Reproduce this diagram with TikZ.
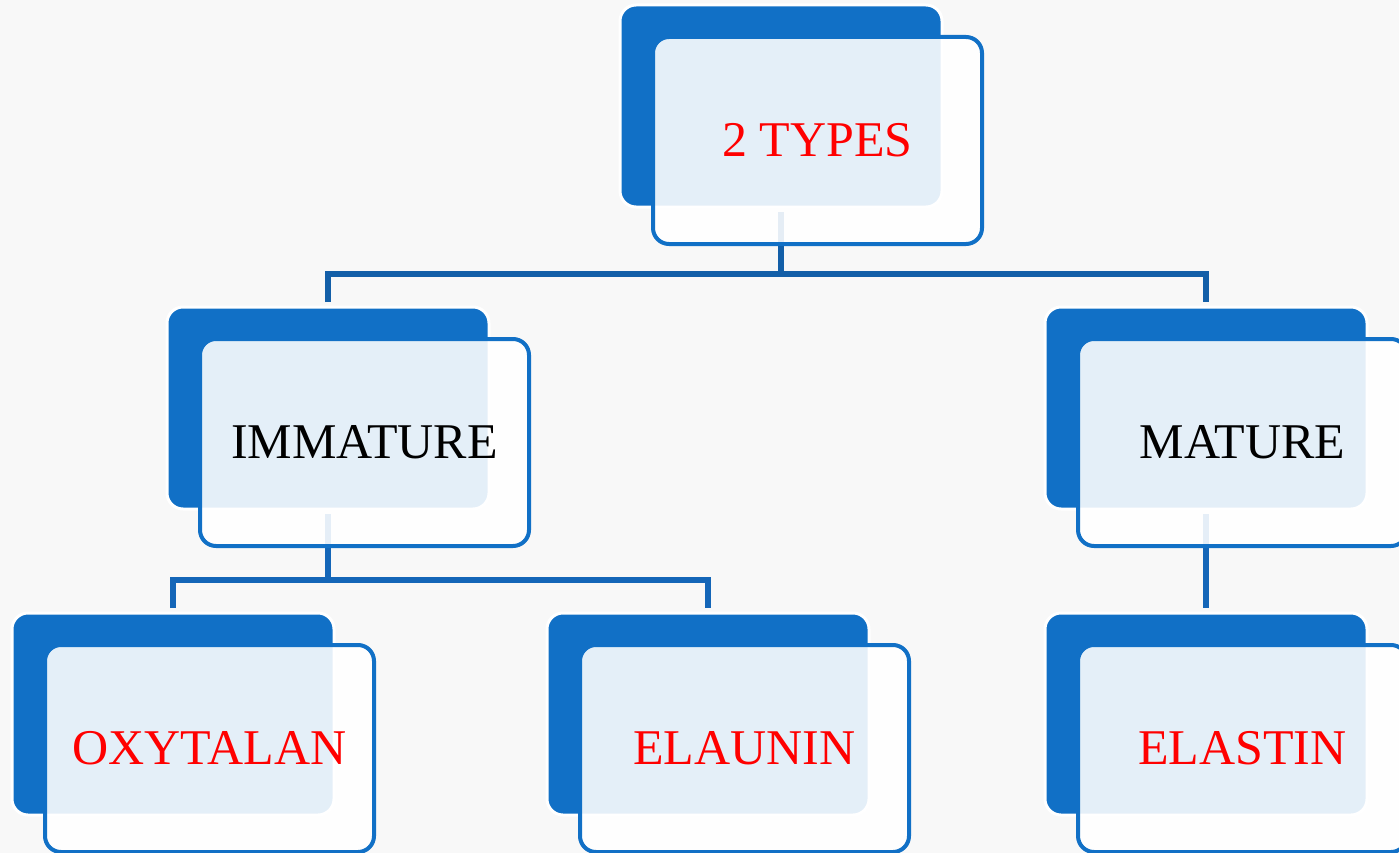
\documentclass[tikz,border=0pt]{standalone}
\usepackage{fontspec}
\setmainfont{Liberation Serif}
\definecolor{bblue}{HTML}{1170C6}
\definecolor{conA}{HTML}{135FA8}
\definecolor{conB}{HTML}{1466B8}
\definecolor{bg}{HTML}{F8F8F8}
\definecolor{txtred}{HTML}{FF0000}
\tikzset{
  backbox/.style={rectangle, rounded corners=16pt, fill=bblue, draw=white, line width=3pt,
    minimum width=322pt, minimum height=202pt, inner sep=0pt, outer sep=5pt},
  frontbox/.style={rectangle, rounded corners=16pt, fill=white, fill opacity=0.89, text opacity=1,
    draw=bblue, line width=4pt, minimum width=329pt, minimum height=207pt, inner sep=0pt,
    font=\fontsize{50}{58}\selectfont},
  conn1/.style={draw=conA, line width=5.5pt},
  conn2/.style={draw=conB, line width=5.5pt},
}
\begin{document}
\begin{tikzpicture}[x=1pt,y=-1pt]
\useasboundingbox (0,0) rectangle (1399,853);
\clip (0,0) rectangle (1399,853);
\fill[bg] (0,0) rectangle (1399,853);
% back boxes
\node[backbox] (topb) at (781,106) {};
\node[backbox] (immb) at (328,408) {};
\node[backbox] (matb) at (1206,408) {};
\node[backbox] (oxyb) at (173,714) {};
\node[backbox] (elab) at (708,714) {};
\node[backbox] (elsb) at (1206,714) {};
% connectors
\coordinate (j1) at (781,274);
\coordinate (j2) at (328,580);
\draw[conn1] (topb.south) -- (j1);
\draw[conn1] (immb.north) |- (j1) -| (matb.north);
\draw[conn2] (immb.south) -- (j2);
\draw[conn2] (oxyb.north) |- (j2) -| (elab.north);
\draw[conn2] (matb.south) -- (elsb.north);
% front boxes
\node[frontbox, text=txtred] (top) at (817.5,140.5) {2 TYPES};
\node[frontbox] (imm) at (364.5,442.5) {IMMATURE};
\node[frontbox] (mat) at (1242.5,442.5) {MATURE};
\node[frontbox, text=txtred] (oxy) at (209.5,748.5) {OXYTALAN};
\node[frontbox, text=txtred] (ela) at (744.5,748.5) {ELAUNIN};
\node[frontbox, text=txtred] (els) at (1242.5,748.5) {ELASTIN};
\end{tikzpicture}
\end{document}
